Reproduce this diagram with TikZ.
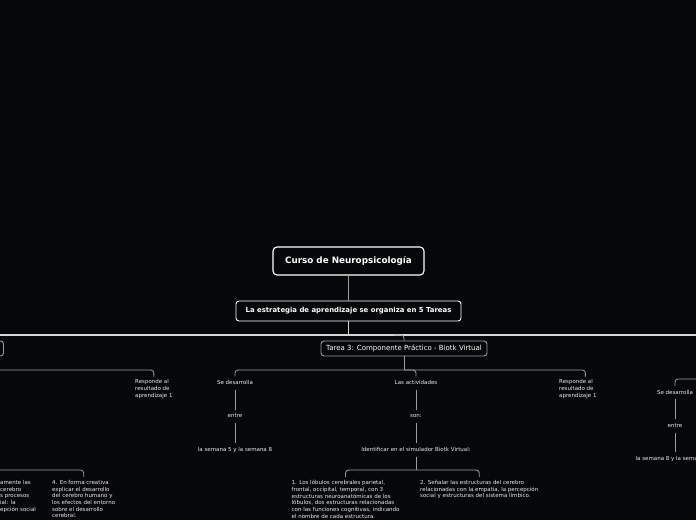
\documentclass[tikz,border=0pt]{standalone}
\usepackage{fontspec}
\setmainfont{DejaVu Sans}
\usetikzlibrary{positioning}
\definecolor{fondo}{HTML}{060709}
\definecolor{linea}{HTML}{9C9C9C}
\definecolor{barra}{HTML}{D6D6D6}
\newcommand{\hoja}{\fontsize{5.5}{6.7}\selectfont}
\tikzset{
  main/.style={rectangle, rounded corners=4pt, draw=white, line width=1.1pt, text=white, font=\bfseries\fontsize{8.8}{10}\selectfont, minimum width=151pt, minimum height=28pt},
  sub/.style={rectangle, rounded corners=3pt, draw=white, line width=0.9pt, text=white, font=\bfseries\fontsize{6.9}{8}\selectfont, minimum width=225pt, minimum height=20pt},
  tarea/.style={rectangle, rounded corners=3pt, draw=linea, line width=0.9pt, text=white, font=\fontsize{7}{8}\selectfont, minimum width=166pt, minimum height=15pt},
  leaf/.style={text=white!92!black, font=\hoja, inner xsep=1pt, inner ysep=4pt, text height=4pt, text depth=1pt},
  texto/.style={text=white!92!black, font=\hoja, align=left, inner xsep=0pt, inner ysep=3pt},
  connect/.style={draw=linea, line width=0.8pt, rounded corners=3pt},
  bus/.style={draw=barra, line width=1.3pt}
}

\begin{document}
\begin{tikzpicture}[x=1pt, y=-1pt]
  \fill[fondo] (0,0) rectangle (696,520);
  \useasboundingbox (0,0) rectangle (696,520);
  \clip (0,0) rectangle (696,520);

  \node[main] (curso) at (348.5,261) {Curso de Neuropsicología};
  \node[sub] (estrategia) at (348.5,311) {La estrategia de aprendizaje se organiza en 5 Tareas};
  \node[tarea] (tarea3) at (404,348.5) {Tarea 3: Componente Práctico - Biotk Virtual};
  \node[tarea] (tarea2) at (-79.5,348.5) {};

  % buses
  \coordinate (busL) at (-5,335);
  \coordinate (busR) at (701,335);
  \coordinate (t3) at (394,335);
  \coordinate (bus2) at (-5,370);
  \coordinate (bus3) at (404,370);
  \coordinate (bus4) at (701,379);
  \coordinate (bus5) at (416,470);
  \coordinate (bus6) at (-5,470);

  % tarea 3
  \node[leaf] (desarrolla) at (235,383) {Se desarrolla};
  \node[leaf] (entre) [below=20pt of desarrolla] {entre};
  \node[leaf] (semanas) [below=20pt of entre] {la semana 5 y la semana 8};
  \node[leaf] (actividades) at (416,383) {Las actividades};
  \node[leaf] (son) [below=20pt of actividades] {son:};
  \node[leaf] (identificar) [below=20pt of son] {Identificar en el simulador Biotk Virtual:};
  \node[texto, anchor=north west] (responde) at (559,376.5) {Responde al\\resultado de\\aprendizaje 1};
  \node[texto, anchor=north west] (lobulos) at (291.5,477) {1. Los lóbulos cerebrales parietal,\\frontal, occipital, temporal, con 3\\estructuras neuroanatómicas de los\\lóbulos, dos estructuras relacionadas\\con las funciones cognitivas, indicando\\el nombre de cada estructura.};
  \node[texto, anchor=north west] (senalar) at (420,477) {2. Señalar las estructuras del cerebro\\relacionadas con la empatía, la percepción\\social y estructuras del sistema límbico.};

  % tarea 2
  \node[texto, anchor=north west] (respondeL) at (135,376.5) {Responde al\\resultado de\\aprendizaje 1};
  \node[texto, anchor=north west] (grafica) at (0,477) {amente las\\cerebro\\s procesos\\ial: la\\epción social};
  \node[texto, anchor=north west] (efectos) at (52,477) {4. En forma creativa\\explicar el desarrollo\\del cerebro humano y\\los efectos del entorno\\sobre el desarrollo\\cerebral.};

  % tarea 4
  \node[leaf] (desarrollaR) at (675,392.5) {Se desarrolla};
  \node[leaf] (entreR) [below=20pt of desarrollaR] {entre};
  \node[leaf, anchor=west, inner xsep=0pt] (semanasR) at (635.5,458.5) {la semana 8 y la sema};

  \path (curso) edge [connect] (estrategia);
  \draw[bus] (estrategia) -- (estrategia |- busL);
  \draw[bus] (busL) -- (busR);
  \draw[connect] (t3) -| (tarea3.north);
  \draw[connect] (tarea3) -- (bus3);
  \draw[connect] (bus3) -| (desarrolla.north);
  \draw[connect] (bus3) -| (actividades.north);
  \draw[connect] (bus3) -| ([xshift=7.5pt]responde.north);
  \path (desarrolla) edge [connect] (entre);
  \path (entre) edge [connect] (semanas);
  \path (actividades) edge [connect] (son);
  \path (son) edge [connect] (identificar);
  \draw[connect] (identificar) -- (bus5);
  \draw[connect] (bus5) -| (lobulos.north);
  \draw[connect] (bus5) -| (senalar.north);
  \draw[connect] (bus2) -| (respondeL.north);
  \draw[connect] (bus6) -| (efectos.north);
  \draw[connect] (bus4) -| (desarrollaR.north);
  \path (desarrollaR) edge [connect] (entreR);
  \draw[connect] (entreR) -- (entreR |- semanasR.north);
\end{tikzpicture}
\end{document}
